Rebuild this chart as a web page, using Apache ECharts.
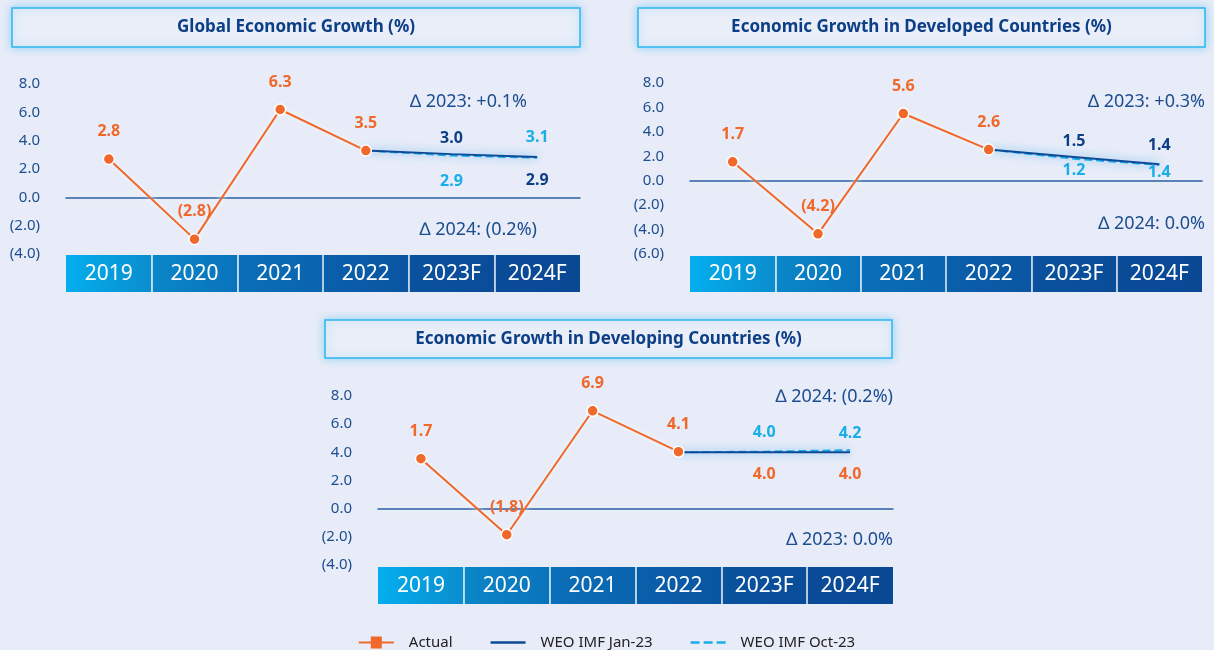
<!DOCTYPE html>
<html>
<head>
<meta charset="utf-8">
<title>Economic Growth</title>
<script src="https://cdn.jsdelivr.net/npm/echarts@6/dist/echarts.min.js"></script>
<style>
  html, body { margin: 0; padding: 0; background: #e7ecf8; }
  #chart { width: 1214px; height: 650px; }
</style>
</head>
<body>
<div id="chart"></div>
<script>
const years = ['2019', '2020', '2021', '2022', '2023F', '2024F']

// Global (values as plotted, texts as printed)
const globalActual = [2.7, -2.95, 6.2, 3.3, null, null]
const globalActualText = ['2.8', '(2.8)', '6.3', '3.5', '', '']
const globalJan = [null, null, null, 3.3, 3.05, 2.85]
const globalJanText = ['', '', '', '', '3.0', '2.9']
const globalOct = [null, null, null, 3.3, 2.95, 2.8]
const globalOctText = ['', '', '', '', '2.9', '3.1']

// Developed countries
const devActual = [1.55, -4.35, 5.5, 2.55, null, null]
const devActualText = ['1.7', '(4.2)', '5.6', '2.6', '', '']
const devJan = [null, null, null, 2.55, 1.95, 1.35]
const devJanText = ['', '', '', '', '1.5', '1.4']
const devOct = [null, null, null, 2.55, 1.8, 1.3]
const devOctText = ['', '', '', '', '1.2', '1.4']

// Developing countries
const emActual = [3.55, -1.85, 6.95, 4.05, null, null]
const emActualText = ['1.7', '(1.8)', '6.9', '4.1', '', '']
const emJan = [null, null, null, 4.0, 4.0, 4.0]
const emJanText = ['', '', '', '', '4.0', '4.0']
const emOct = [null, null, null, 4.0, 4.05, 4.15]
const emOctText = ['', '', '', '', '4.0', '4.2']

const ORANGE = '#f0682a'
const NAVY = '#0d3f86'
const SKY = '#19aeea'
const AXIS_TXT = '#1e4d8f'
const FONT = '"Noto Sans", sans-serif'

const bandColors = [
  ['#04aeee', '#0a8dcd'],
  ['#0a87c8', '#0a73bb'],
  ['#0a6fb8', '#0a63ae'],
  ['#0a5fab', '#0a55a2'],
  ['#0a529e', '#0a4c98'],
  ['#0a4b97', '#0a4894']
].map(c => new echarts.graphic.LinearGradient(0, 0, 1, 0, [
  { offset: 0, color: c[0] },
  { offset: 1, color: c[1] }
]))

const panels = [
  {
    title: 'Global Economic Growth (%)',
    box: [12, 8, 568, 39],
    grid: { left: 66, top: 84, width: 514, height: 170 },
    band: { left: 66, top: 255, width: 514, height: 37 },
    min: -4, max: 8,
    actual: globalActual, actualText: globalActualText,
    jan: globalJan, janText: globalJanText,
    janPos: ['', '', '', '', 'top', 'bottom'], janDist: [0, 0, 0, 0, 8, 15], janColor: NAVY,
    oct: globalOct, octText: globalOctText,
    octPos: ['', '', '', '', 'bottom', 'top'], octDist: [0, 0, 0, 0, 18, 12], octColor: SKY,
    notes: [['∆ 2023: +0.1%', 527, 102], ['∆ 2024: (0.2%)', 537, 230]]
  },
  {
    title: 'Economic Growth in Developed Countries (%)',
    box: [638, 8, 567, 39],
    grid: { left: 690, top: 83, width: 512, height: 171 },
    band: { left: 690, top: 256, width: 512, height: 36 },
    min: -6, max: 8,
    actual: devActual, actualText: devActualText,
    jan: devJan, janText: devJanText,
    janPos: ['', '', '', '', 'top', 'top'], janDist: [0, 0, 0, 0, 7, 11], janColor: NAVY,
    oct: devOct, octText: devOctText,
    octPos: ['', '', '', '', 'bottom', 'bottom'], octDist: [0, 0, 0, 0, 4, 0], octColor: SKY,
    notes: [['∆ 2023: +0.3%', 1205, 102], ['∆ 2024: 0.0%', 1205, 224]]
  },
  {
    title: 'Economic Growth in Developing Countries (%)',
    box: [325, 320, 567, 38],
    grid: { left: 378, top: 396, width: 515, height: 169 },
    band: { left: 378, top: 567, width: 515, height: 37 },
    min: -4, max: 8,
    actual: emActual, actualText: emActualText,
    jan: emJan, janText: emJanText,
    janPos: ['', '', '', '', 'bottom', 'bottom'], janDist: [0, 0, 0, 0, 14, 14], janColor: ORANGE,
    oct: emOct, octText: emOctText,
    octPos: ['', '', '', '', 'top', 'top'], octDist: [0, 0, 0, 0, 11, 9], octColor: SKY,
    notes: [['∆ 2024: (0.2%)', 893, 397], ['∆ 2023: 0.0%', 893, 540]]
  }
]

function labelled(values, texts, pos, dist, color) {
  return values.map((v, i) => ({
    value: v,
    label: {
      show: !!texts[i],
      formatter: texts[i] || '',
      position: pos ? (pos[i] || 'top') : 'top',
      distance: dist ? dist[i] : 13,
      color: color,
      fontSize: 16,
      fontWeight: 'bold',
      fontFamily: FONT
    }
  }))
}

const grids = []
const xAxes = []
const yAxes = []
const series = []
const graphics = []

panels.forEach((p, k) => {
  const gi = grids.length
  grids.push(p.grid)
  grids.push(p.band)

  xAxes.push({
    gridIndex: gi,
    type: 'category',
    data: years,
    boundaryGap: true,
    axisLine: {
      onZero: true,
      lineStyle: { color: '#2a5fa3', width: 1.5, shadowColor: 'rgba(255,255,255,0.95)', shadowBlur: 14 }
    },
    axisTick: { show: false },
    axisLabel: { show: false },
    splitLine: { show: false }
  })
  xAxes.push({
    gridIndex: gi + 1,
    type: 'category',
    data: years,
    boundaryGap: true,
    axisLine: { show: false },
    axisTick: { show: false },
    axisLabel: {
      color: '#ffffff',
      fontSize: 21,
      fontFamily: FONT,
      margin: -18,
      verticalAlign: 'middle'
    },
    splitLine: {
      show: true,
      showMinLine: false,
      showMaxLine: false,
      lineStyle: { color: 'rgba(255,255,255,0.9)', width: 1.5 }
    },
    splitArea: { show: true, areaStyle: { color: bandColors } }
  })

  yAxes.push({
    gridIndex: gi,
    type: 'value',
    min: p.min,
    max: p.max,
    interval: 2,
    axisLine: { show: false },
    axisTick: { show: false },
    splitLine: { show: false },
    axisLabel: {
      color: AXIS_TXT,
      fontSize: 15,
      fontFamily: FONT,
      margin: 26,
      formatter: v => v < 0 ? '(' + (-v).toFixed(1) + ')' : v.toFixed(1)
    }
  })
  yAxes.push({ gridIndex: gi + 1, type: 'value', min: 0, max: 1, show: false })

  const ax = k * 2
  series.push({
    name: 'WEO IMF Oct-23',
    type: 'line',
    xAxisIndex: ax,
    yAxisIndex: ax,
    data: labelled(p.oct, p.octText, p.octPos, p.octDist, p.octColor),
    symbol: 'circle',
    symbolSize: 0.1,
    itemStyle: { color: SKY },
    lineStyle: { color: SKY, width: 2, type: 'dashed' },
    z: 3
  })
  series.push({
    name: 'WEO IMF Jan-23',
    type: 'line',
    xAxisIndex: ax,
    yAxisIndex: ax,
    data: labelled(p.jan, p.janText, p.janPos, p.janDist, p.janColor),
    symbol: 'circle',
    symbolSize: 0.1,
    itemStyle: { color: '#0d4a96' },
    lineStyle: {
      color: '#0d4a96', width: 2,
      shadowColor: 'rgba(30,150,235,0.75)', shadowBlur: 9
    },
    z: 4
  })
  series.push({
    name: 'Actual',
    type: 'line',
    xAxisIndex: ax,
    yAxisIndex: ax,
    data: labelled(p.actual, p.actualText, null, null, ORANGE),
    symbol: 'circle',
    symbolSize: 11,
    itemStyle: { color: ORANGE, borderColor: '#ffffff', borderWidth: 1.5 },
    lineStyle: { color: ORANGE, width: 2, shadowColor: 'rgba(255,255,255,0.9)', shadowBlur: 5 },
    z: 5
  })

  const b = p.box
  graphics.push({
    type: 'group',
    x: b[0],
    y: b[1],
    children: [
      {
        type: 'rect',
        shape: { x: 0, y: 0, width: b[2], height: b[3] },
        style: {
          fill: '#e9eef9', stroke: '#2cb5ef', lineWidth: 1.5,
          shadowBlur: 8, shadowColor: 'rgba(44,181,239,0.45)'
        }
      },
      {
        type: 'text',
        x: b[2] / 2,
        y: b[3] / 2,
        style: {
          text: p.title, align: 'center', verticalAlign: 'middle',
          fill: NAVY, font: 'bold 17px ' + FONT
        }
      }
    ]
  })
  p.notes.forEach(n => {
    graphics.push({
      type: 'text',
      x: n[1],
      y: n[2],
      z: 10,
      style: {
        text: n[0], align: 'right', verticalAlign: 'middle',
        fill: AXIS_TXT, font: '18px ' + FONT
      }
    })
  })
})

const chart = echarts.init(document.getElementById('chart'))
chart.setOption({
  backgroundColor: '#e7ecf8',
  animation: false,
  textStyle: { fontFamily: FONT },
  grid: grids,
  xAxis: xAxes,
  yAxis: yAxes,
  series: series,
  graphic: graphics,
  legend: {
    top: 630,
    left: 'center',
    itemWidth: 35,
    itemHeight: 12,
    itemGap: 38,
    textStyle: { color: '#222222', fontSize: 15, padding: [0, 0, 0, 10] },
    data: [
      {
        name: 'Actual',
        icon: 'path://M0,5h12v2h-12z M12,0h11v12h-11z M23,5h12v2h-12z',
        itemStyle: { color: ORANGE, borderWidth: 0 }
      },
      {
        name: 'WEO IMF Jan-23',
        icon: 'path://M0,0h35v2.5h-35z',
        itemStyle: { color: '#0d4a96', borderWidth: 0 }
      },
      {
        name: 'WEO IMF Oct-23',
        icon: 'path://M0,0h9v2.5h-9z M13,0h9v2.5h-9z M26,0h9v2.5h-9z',
        itemStyle: { color: SKY, borderWidth: 0 }
      }
    ]
  }
})

window.addEventListener('resize', () => chart.resize())
</script>
</body>
</html>
